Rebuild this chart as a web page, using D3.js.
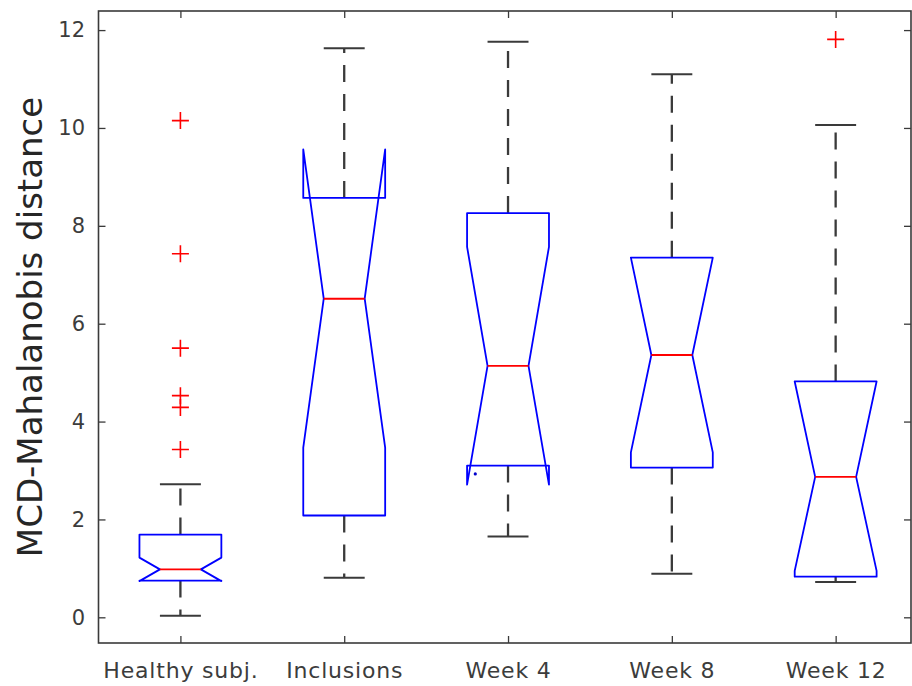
<!DOCTYPE html>
<html>
<head>
<meta charset="utf-8">
<script src="https://cdn.jsdelivr.net/npm/d3@7"></script>
<style>
  body { margin: 0; background: #fff; }
  text { font-family: "DejaVu Sans", sans-serif; }
</style>
</head>
<body>
<div id="chart"></div>
<script>
// Box statistics, one entry per group
const categories = ["Healthy subj.", "Inclusions", "Week 4", "Week 8", "Week 12"];
const upperWhisker = [2.72, 11.63, 11.76, 11.10, 10.06];
const q3 = [1.69, 8.57, 8.26, 7.35, 4.82];
const notchHi = [1.22, 9.56, 7.57, 7.35, 4.82];
const median = [0.98, 6.51, 5.14, 5.36, 2.87];
const notchLo = [0.74, 3.47, 2.71, 3.37, 0.95];
const q1 = [0.75, 2.08, 3.10, 3.06, 0.83];
const lowerWhisker = [0.03, 0.81, 1.65, 0.89, 0.72];
const outliers = [[10.15, 7.43, 5.50, 4.53, 4.29, 3.43], [], [], [], [11.81]];
const strayDots = [{ group: 3, offset: -0.2, value: 2.93 }];
const yTicks = [0, 2, 4, 6, 8, 10, 12];

const width = 912;
const height = 686;

const svg = d3.select("#chart")
    .append("svg")
    .attr("width", width)
    .attr("height", height);

const x = d3.scaleLinear().domain([0.5, 5.46]).range([98.5, 911]);
const y = d3.scaleLinear().domain([-0.525, 12.39]).range([643, 11]);

const boxHalf = 0.25;   // half box width in group units
const notchHalf = 0.125;
const capHalf = 0.125;

const axisColor = "#3a3a3a";

// Axes (ticks point inwards, MATLAB style)
const yAxis = svg.append("g")
    .attr("transform", `translate(${x(0.5)},0)`)
    .call(d3.axisLeft(y).tickValues(yTicks).tickSize(-7).tickPadding(13.5));

svg.append("g")
    .attr("transform", `translate(${x(5.46)},0)`)
    .call(d3.axisRight(y).tickValues(yTicks).tickSize(-7).tickFormat(""));

const xAxis = svg.append("g")
    .attr("transform", `translate(0,${y(-0.525)})`)
    .call(d3.axisBottom(x).tickValues([1, 2, 3, 4, 5]).tickSize(-7).tickPadding(19)
        .tickFormat(i => categories[i - 1]));

svg.append("g")
    .attr("transform", `translate(0,${y(12.39)})`)
    .call(d3.axisTop(x).tickValues([1, 2, 3, 4, 5]).tickSize(-7).tickFormat(""));

svg.selectAll(".domain").remove();
svg.selectAll(".tick line").attr("stroke", axisColor).attr("stroke-width", 1.3);

yAxis.selectAll("text")
    .attr("font-size", 21)
    .attr("fill", "#3c3c3c");

xAxis.selectAll("text")
    .attr("font-size", 22)
    .attr("letter-spacing", "0.8px")
    .attr("fill", "#3c3c3c");

// Frame
svg.append("rect")
    .attr("x", x(0.5))
    .attr("y", y(12.39))
    .attr("width", x(5.46) - x(0.5))
    .attr("height", y(-0.525) - y(12.39))
    .attr("fill", "none")
    .attr("stroke", axisColor)
    .attr("stroke-width", 1.6);

// Y label
svg.append("text")
    .attr("transform", "translate(42,327) rotate(-90)")
    .attr("text-anchor", "middle")
    .attr("font-size", 34)
    .attr("fill", "#262626")
    .text("MCD-Mahalanobis distance");

const groups = categories.map((c, i) => i);

// Whiskers (dashed), drawn from the box outwards
svg.selectAll(".whisker-up")
    .data(groups)
    .enter().append("line")
    .attr("class", "whisker-up")
    .attr("x1", i => x(i + 1)).attr("x2", i => x(i + 1))
    .attr("y1", i => y(q3[i])).attr("y2", i => y(upperWhisker[i]))
    .attr("stroke", "#3a3a3a")
    .attr("stroke-width", 2.3)
    .attr("stroke-dasharray", "17,12");

svg.selectAll(".whisker-down")
    .data(groups)
    .enter().append("line")
    .attr("class", "whisker-down")
    .attr("x1", i => x(i + 1)).attr("x2", i => x(i + 1))
    .attr("y1", i => y(q1[i])).attr("y2", i => y(lowerWhisker[i]))
    .attr("stroke", "#3a3a3a")
    .attr("stroke-width", 2.3)
    .attr("stroke-dasharray", "17,12");

// Whisker caps
[upperWhisker, lowerWhisker].forEach((vals, k) => {
    svg.selectAll(".cap" + k)
        .data(groups)
        .enter().append("line")
        .attr("class", "cap" + k)
        .attr("x1", i => x(i + 1 - capHalf)).attr("x2", i => x(i + 1 + capHalf))
        .attr("y1", i => y(vals[i])).attr("y2", i => y(vals[i]))
        .attr("stroke", "#3a3a3a")
        .attr("stroke-width", 2);
});

// Notched boxes
const boxLine = d3.line().x(d => x(d[0])).y(d => y(d[1]));

svg.selectAll(".box")
    .data(groups)
    .enter().append("path")
    .attr("class", "box")
    .attr("d", i => {
        const c = i + 1;
        return boxLine([
            [c - boxHalf, q1[i]],
            [c - boxHalf, notchLo[i]],
            [c - notchHalf, median[i]],
            [c - boxHalf, notchHi[i]],
            [c - boxHalf, q3[i]],
            [c + boxHalf, q3[i]],
            [c + boxHalf, notchHi[i]],
            [c + notchHalf, median[i]],
            [c + boxHalf, notchLo[i]],
            [c + boxHalf, q1[i]]
        ]) + "Z";
    })
    .attr("fill", "none")
    .attr("stroke", "#0000ff")
    .attr("stroke-width", 1.8)
    .attr("stroke-linejoin", "round");

// Medians
svg.selectAll(".median")
    .data(groups)
    .enter().append("line")
    .attr("class", "median")
    .attr("x1", i => x(i + 1 - notchHalf)).attr("x2", i => x(i + 1 + notchHalf))
    .attr("y1", i => y(median[i])).attr("y2", i => y(median[i]))
    .attr("stroke", "#ff0000")
    .attr("stroke-width", 1.8);

// Outliers as red plus signs
const outlierPts = outliers.flatMap((vals, i) => vals.map(v => ({ i, v })));

svg.selectAll(".outlier")
    .data(outlierPts)
    .enter().append("path")
    .attr("class", "outlier")
    .attr("transform", d => `translate(${x(d.i + 1)},${y(d.v)})`)
    .attr("d", "M-8.5,0H8.5M0,-8.5V8.5")
    .attr("stroke", "#ff0000")
    .attr("stroke-width", 1.6)
    .attr("fill", "none");

// Small stray marker left of the Week 4 box
svg.selectAll(".stray")
    .data(strayDots)
    .enter().append("circle")
    .attr("class", "stray")
    .attr("cx", d => x(d.group + d.offset))
    .attr("cy", d => y(d.value))
    .attr("r", 1.6)
    .attr("fill", "#0000cc");
</script>
</body>
</html>
